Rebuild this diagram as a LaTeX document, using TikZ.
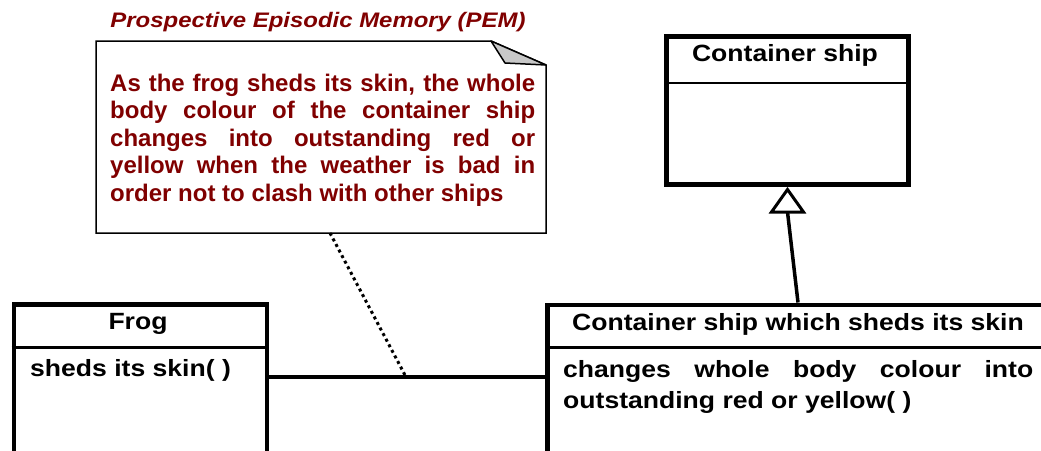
\documentclass[tikz,border=0pt]{standalone}
\usepackage{fontspec}
\setmainfont{Liberation Sans}
\newfontfamily\umlfont[FakeStretch=1.13]{Liberation Sans}
\newfontfamily\pemfont[FakeStretch=1.14]{Liberation Sans}
\newfontfamily\notefont{Liberation Sans}
\definecolor{pemred}{HTML}{800000}
\definecolor{foldgray}{HTML}{C8C8C8}
\tikzset{
  classbox/.style={draw, line width=4.5pt, fill=white, inner sep=0pt, anchor=north west},
  divider/.style={line width=2.5pt},
  classtext/.style={inner sep=0pt, font=\umlfont\bfseries\fontsize{23.5}{31}\selectfont},
  link/.style={line width=3.5pt},
  notelink/.style={line width=3pt, dash pattern=on 3pt off 3.3pt},
}
\begin{document}
\begin{tikzpicture}[x=1pt, y=-1pt]
\useasboundingbox (0,0) rectangle (1041,450);
\clip (0,0) rectangle (1041,450);

% note with folded corner
\coordinate (nw) at (96,41);
\coordinate (fold1) at (491,41);
\coordinate (fold2) at (546,65);
\coordinate (se) at (546,233);
\coordinate (sw) at (96,233);
\draw[line width=1.5pt, fill=white] (nw) -- (fold1) -- (fold2) -- (se) -- (sw) -- cycle;
\draw[line width=1.5pt, fill=foldgray, line join=round] (fold1) -- (505,63) -- (fold2) -- cycle;
\node[inner sep=0pt, text=pemred, font=\pemfont\bfseries\itshape\fontsize{21}{25}\selectfont, anchor=base]
  (pemtitle) at (318,27) {Prospective Episodic Memory (PEM)};
\node[inner sep=0pt, text=pemred, anchor=base west] (notetext) at (110,91)
  {\parbox[t]{425pt}{\notefont\bfseries\fontsize{24}{27.5}\selectfont\emergencystretch=2em
   As the frog sheds its skin, the whole\linebreak
   body colour of the container ship\linebreak
   changes into outstanding red or\linebreak
   yellow when the weather is bad in\linebreak
   order not to clash with other ships}};
\coordinate (notefoot) at (330,233);

% class: Container ship
\node[classbox, minimum width=242pt, minimum height=148pt] (ship) at (664,34) {};
\draw[divider] (664,83) -- (906,83);
\node[classtext, anchor=base] (shiptitle) at (785,61) {Container ship};

% class: Frog
\node[classbox, minimum width=253pt, minimum height=200pt] (frog) at (11.5,302) {};
\draw[divider] (11.5,347.5) -- (264.5,347.5);
\node[classtext, anchor=base] (frogtitle) at (138,329.5) {Frog};
\node[classtext, anchor=base west] (frogop) at (30,376) {sheds its skin( )};

% class: Container ship which sheds its skin
\node[classbox, minimum width=560pt, minimum height=200pt] (child) at (545,302.5) {};
\draw[divider] (545,347.5) -- (1060,347.5);
\node[classtext, anchor=base] (childtitle) at (798,330) {Container ship which sheds its skin};
\node[classtext, anchor=base west] (childop) at (563,377)
  {\parbox[t]{470pt}{\baselineskip=31pt\emergencystretch=3em
   changes whole body colour into\linebreak
   outstanding red or yellow( )}};

% association between Frog and the child class
\coordinate (assoc) at (406,377);
\draw[link] (frog.east |- assoc) -- (child.west |- assoc);

% note attached to the association
\draw[notelink] (notefoot) -- (assoc);

% generalization to Container ship
\coordinate (gtip) at (787.5,189.5);
\coordinate (gbase) at (787.5,212);
\draw[link] (child.north -| 798,0) -- (gbase);
\draw[line width=3pt, fill=white, line join=miter] (gtip) -- (771.5,212) -- (803.5,212) -- cycle;
\end{tikzpicture}
\end{document}
